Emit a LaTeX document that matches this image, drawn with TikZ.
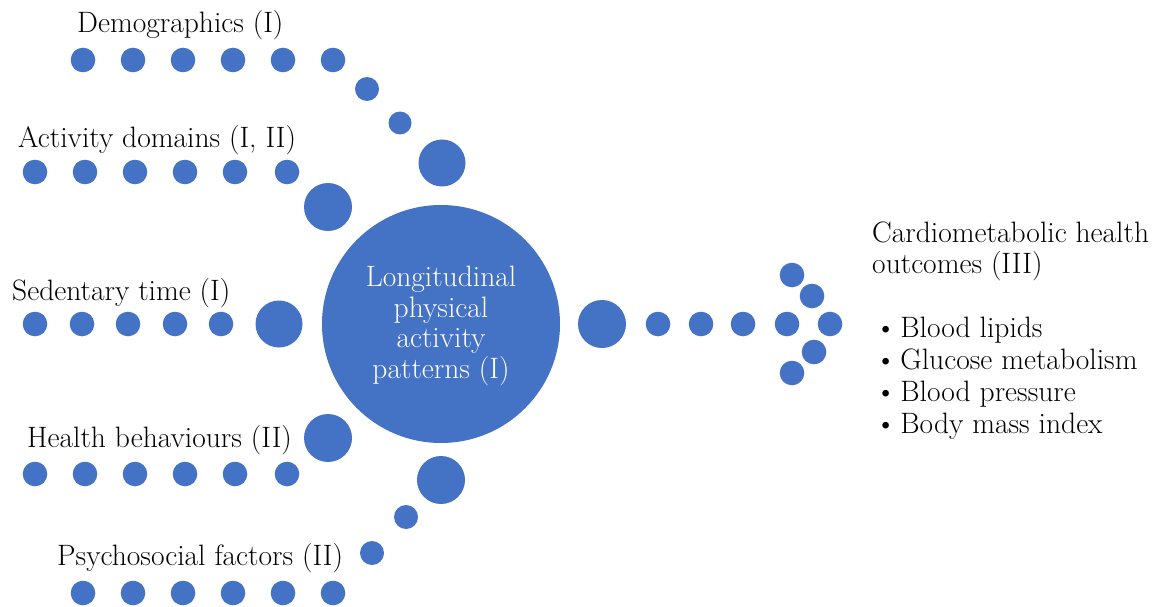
\documentclass[tikz,border=0pt]{standalone}
\usepackage{fontspec}
\definecolor{dotblue}{HTML}{4472C4}
\begin{document}
\begin{tikzpicture}[x=1pt,y=-1pt,
  dot/.style={fill=dotblue},
  lbl/.style={anchor=base west,inner sep=0pt,font=\fontsize{29.5}{30}\selectfont},
  bul/.style={lbl,font=\fontsize{29.5}{30}\selectfont},
  ctext/.style={align=center,text=white,inner sep=0pt,font=\fontsize{29.5}{30.5}\selectfont}]
\useasboundingbox (0,0) rectangle (1164,607);
% central circle
\fill[dot] (441,324) circle (119);
\node[ctext] (centre) at (441,326) {Longitudinal\\physical\\activity\\patterns (I)};
% Demographics row
\foreach \x in {83,133,183,233,283,333} \fill[dot] (\x,60) circle (12.3);
\fill[dot] (367,89) circle (12);
\fill[dot] (400,123) circle (11.5);
\fill[dot] (442,163) circle (23.5);
% Activity domains row
\foreach \x in {35,85,135,185,235,287} \fill[dot] (\x,172) circle (12.3);
\fill[dot] (328,207) circle (24);
% Sedentary row
\foreach \x in {35,82,128,175,221} \fill[dot] (\x,324) circle (12.3);
\fill[dot] (279,324) circle (23.5);
% Health behaviours row
\foreach \x in {35,85,135,185,235,287} \fill[dot] (\x,474) circle (12.3);
\fill[dot] (328,438) circle (24);
% Psychosocial row
\foreach \x in {83,133,183,233,283,333} \fill[dot] (\x,593) circle (12.3);
\fill[dot] (372,553) circle (12);
\fill[dot] (406,517) circle (12);
\fill[dot] (441,480) circle (24);
% outgoing arrow
\fill[dot] (602,324) circle (24);
\foreach \x in {658,701,743,787,830} \fill[dot] (\x,324) circle (12.3);
\fill[dot] (792,275) circle (12.3);
\fill[dot] (812,296) circle (12.3);
\fill[dot] (814,352) circle (12.3);
\fill[dot] (792,373) circle (12.3);
% labels
\node[lbl] (demo) at (77,33) {Demographics (I)};
\node[lbl] (actdom) at (18,147) {Activity domains (I, II)};
\node[lbl] (sed) at (12,300) {Sedentary time (I)};
\node[lbl] (health) at (27,447) {Health behaviours (II)};
\node[lbl] (psych) at (57,565) {Psychosocial factors (II)};
\node[lbl] (outc1) at (872,242) {Cardiometabolic health};
\node[lbl] (outc2) at (872,273) {outcomes (III)};
\node[bul] (b1) at (875,337) {\textbullet\hspace{4pt}Blood lipids};
\node[bul] (b2) at (875,369) {\textbullet\hspace{4pt}Glucose metabolism};
\node[bul] (b3) at (875,401) {\textbullet\hspace{4pt}Blood pressure};
\node[bul] (b4) at (875,433) {\textbullet\hspace{4pt}Body mass index};
\end{tikzpicture}
\end{document}
